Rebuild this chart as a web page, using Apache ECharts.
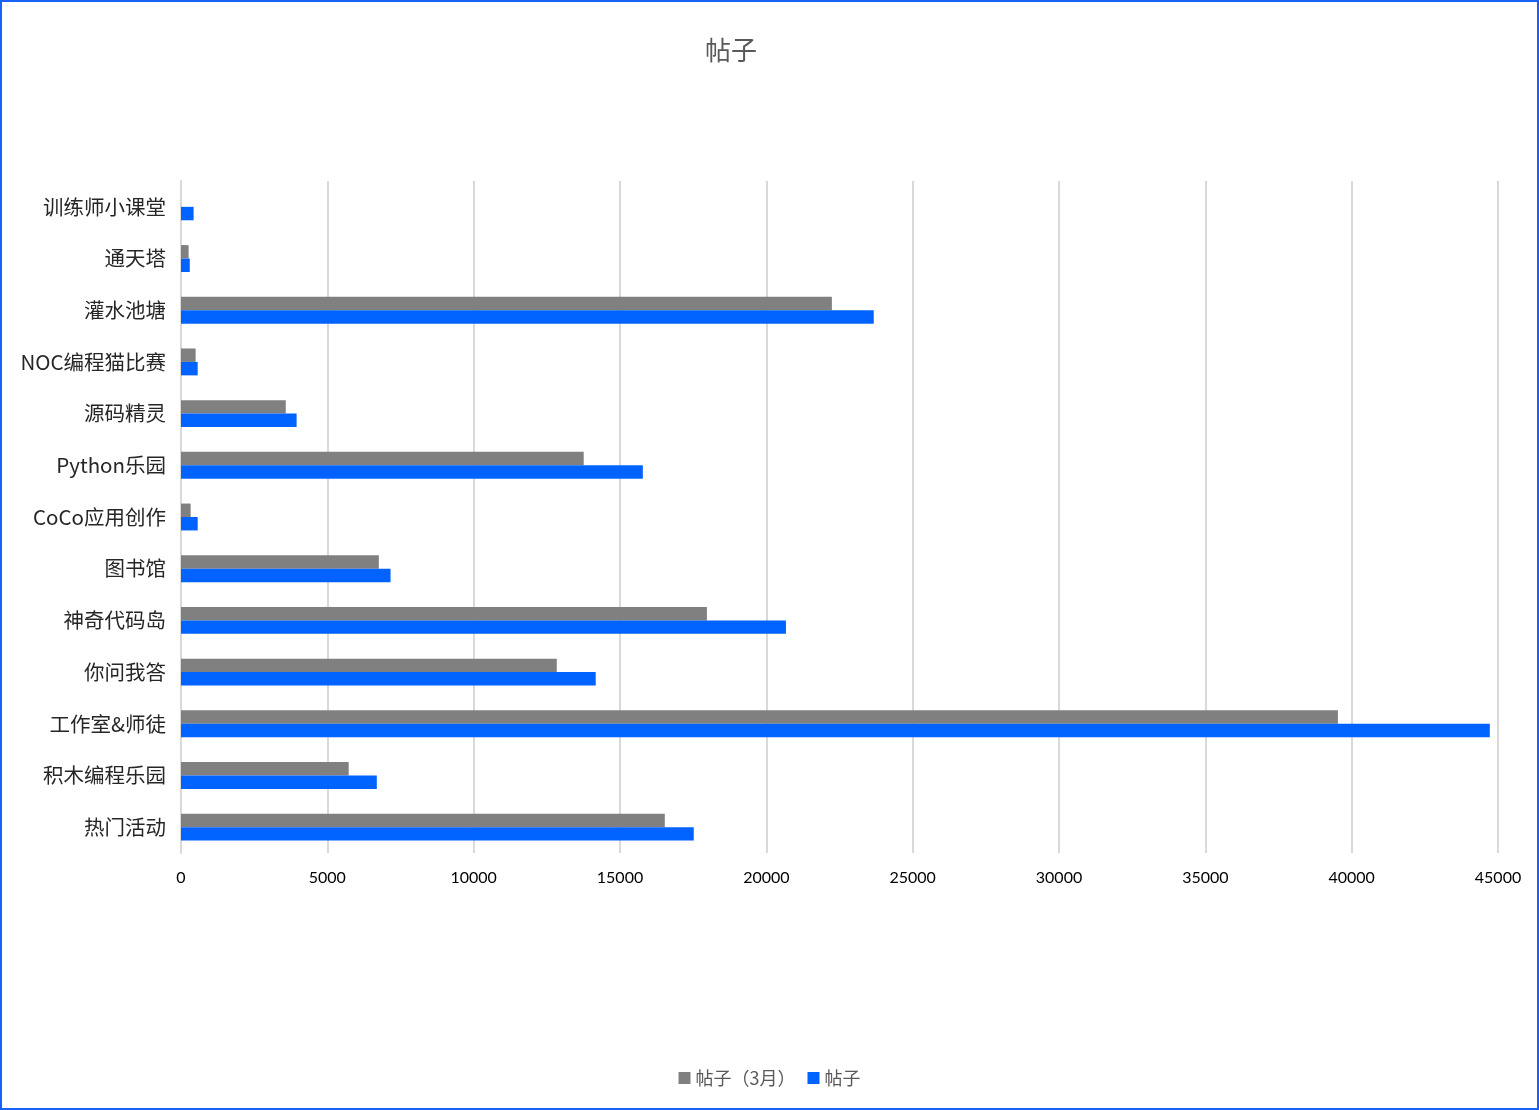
<!DOCTYPE html>
<html>
<head>
<meta charset="utf-8">
<script src="https://cdn.jsdelivr.net/npm/echarts@6/dist/echarts.min.js"></script>
<style>
html,body{margin:0;padding:0;background:#fff;}
#c{width:1539px;height:1110px;}
</style>
</head>
<body>
<div id="c"></div>
<script>
// categories from bottom to top
const categories = ['热门活动','积木编程乐园','工作室&师徒','你问我答','神奇代码岛','图书馆','CoCo应用创作','Python乐园','源码精灵','NOC编程猫比赛','灌水池塘','通天塔','训练师小课堂'];
const marchValues = [16530, 5730, 39530, 12840, 17970, 6760, 330, 13760, 3580, 500, 22240, 260, 0];
const postValues  = [17520, 6690, 44720, 14170, 20670, 7160, 570, 15780, 3950, 570, 23670, 300, 430];
const seriesNames = ['帖子（3月）','帖子'];
const xTicks = {min: 0, max: 45000, interval: 5000};

const chart = echarts.init(document.getElementById('c'));
chart.setOption({
  animation: false,
  title: {
    text: '帖子', left: 700, top: 32,
    textStyle: {fontSize: 26, fontWeight: 'normal', color: '#595959', fontFamily: 'Noto Sans CJK SC'}
  },
  legend: {
    bottom: 18, left: 'center',
    itemWidth: 12, itemHeight: 12, itemGap: 12,
    icon: 'rect',
    textStyle: {fontSize: 18, color: '#595959', fontFamily: 'Noto Sans CJK SC'},
    data: seriesNames
  },
  graphic: [{
    type: 'rect', shape: {x: 1, y: 1, width: 1537, height: 1108},
    style: {fill: 'none', stroke: '#1a62f5', lineWidth: 2}, silent: true, z: 100
  }],
  grid: {left: 181, right: 41, top: 181, bottom: 257, containLabel: false},
  xAxis: {
    type: 'value', min: xTicks.min, max: xTicks.max, interval: xTicks.interval,
    axisLine: {show: false}, axisTick: {show: false},
    axisLabel: {fontSize: 16, color: '#000', margin: 17, fontFamily: 'Lato', formatter: v => String(v)},
    splitLine: {lineStyle: {color: '#d9d9d9', width: 2}}
  },
  yAxis: {
    type: 'category', data: categories,
    axisLine: {lineStyle: {color: '#d9d9d9', width: 2}},
    axisTick: {show: false},
    axisLabel: {fontSize: 20.5, color: '#262626', margin: 15, fontFamily: 'Noto Sans CJK SC'}
  },
  series: [
    {name: seriesNames[0], type: 'bar', data: marchValues, itemStyle: {color: '#808080'}, barGap: '0%', barCategoryGap: '48%'},
    {name: seriesNames[1], type: 'bar', data: postValues, itemStyle: {color: '#0062ff'}, barGap: '0%', barCategoryGap: '48%'}
  ]
});
</script>
</body>
</html>
